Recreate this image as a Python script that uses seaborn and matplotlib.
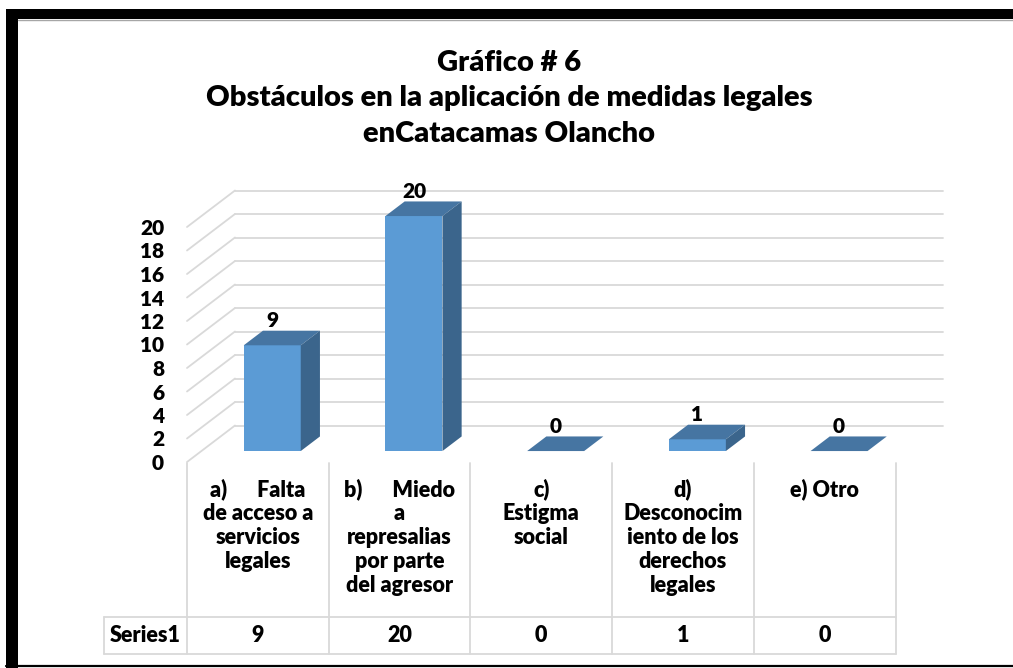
import numpy as np
import pandas as pd
import matplotlib
matplotlib.use("Agg")
import matplotlib.pyplot as plt
import matplotlib.transforms as mtrans
from matplotlib.patches import Polygon, Rectangle
from matplotlib.lines import Line2D
import seaborn as sns

# ---------------- data ----------------
title_lines = ["Gráfico # 6",
               "Obstáculos en la aplicación de medidas legales",
               "enCatacamas Olancho"]
categories = ["a) Falta de acceso a servicios legales",
              "b) Miedo a represalias por parte del agresor",
              "c) Estigma social",
              "d) Desconocimiento de los derechos legales",
              "e) Otro"]
category_label_lines = [
    ["a)      Falta", "de acceso a", "servicios", "legales"],
    ["b)      Miedo", "a", "represalias", "por parte", "del agresor"],
    ["c)", "Estigma", "social"],
    ["d)", "Desconocim", "iento de los", "derechos", "legales"],
    ["e) Otro"],
]
values = [9, 20, 0, 1, 0]
series_name = "Series1"
y_ticks = [0, 2, 4, 6, 8, 10, 12, 14, 16, 18, 20]

# ---------------- style ----------------
W, H = 1013, 668
sns.set_theme(style="white")
plt.rcParams["font.family"] = ["Lato", "DejaVu Sans"]
FW = "heavy"
plt.rcParams["font.weight"] = FW

front_c = "#5B9BD5"
top_c = "#4675A2"
side_c = "#3B658C"
grid_c = "#D9D9D9"

fig = plt.figure(figsize=(W / 100, H / 100), dpi=100)
fig.patch.set_facecolor("white")

def fx(px):
    return px / W

def fy(py):
    return 1 - py / H

# axes = front plane of the 3D plot
ax_left, ax_right, ax_bottom, ax_top = 187, 944, 462, 180
ax = fig.add_axes([fx(ax_left), fy(ax_bottom), fx(ax_right - ax_left), (ax_bottom - ax_top) / H])

cat_px = 141.7
val_px = 11.75
xmin = -0.5
xmax = xmin + (ax_right - ax_left) / cat_px
ymax = (ax_bottom - ax_top) / val_px

# depth vector (data units)
Dx = 48 / cat_px
Dy = 36.5 / val_px
f0, f1 = 0.30, 0.70  # bar front / back depth fractions
bar_w = 57 / cat_px

df = pd.DataFrame({"cat": categories, "val": values})
sns.barplot(data=df, x="cat", y="val", ax=ax, color=front_c, width=bar_w,
            saturation=1, linewidth=0, zorder=3)

ax.set_xlim(xmin, xmax)
ax.set_ylim(0, ymax)
for s in ax.spines.values():
    s.set_visible(False)
ax.set_xlabel("")
ax.set_ylabel("")
ax.set_xticks([])
ax.set_yticks(y_ticks)
ax.set_yticklabels([str(t) for t in y_ticks], fontsize=15, fontweight=FW, color="black")
ax.tick_params(axis="y", length=0, pad=16.5)
ax.set_facecolor("none")
ax.grid(False)

# back wall and side wall gridlines
for t in y_ticks:
    ax.add_line(Line2D([xmin, xmin + Dx], [t, t + Dy], color=grid_c, lw=1.3, zorder=1, clip_on=False))
    ax.add_line(Line2D([xmin + Dx, xmax - 0.005], [t + Dy, t + Dy], color=grid_c, lw=1.3, zorder=1, clip_on=False))

# 3D bar faces
ddx = (f1 - f0) * Dx
ddy = (f1 - f0) * Dy
for p, v in zip(ax.patches, values):
    p.set_x(p.get_x() + f0 * Dx)
    p.set_y(f0 * Dy)
    x0 = p.get_x()
    x1 = x0 + p.get_width()
    yb = f0 * Dy
    yt = v + f0 * Dy
    top = Polygon([(x0, yt), (x1, yt), (x1 + ddx, yt + ddy), (x0 + ddx, yt + ddy)],
                  closed=True, facecolor=top_c, edgecolor="none", zorder=4)
    ax.add_patch(top)
    if v > 0:
        side = Polygon([(x1, yb), (x1 + ddx, yb + ddy), (x1 + ddx, yt + ddy), (x1, yt)],
                       closed=True, facecolor=side_c, edgecolor="none", zorder=4)
        ax.add_patch(side)
    ax.annotate(str(v), xy=((x0 + x1) / 2, v + f1 * Dy), xytext=(0, 2.5),
                textcoords="offset points", ha="center", va="baseline",
                fontsize=15, fontweight=FW, color="black", zorder=5)

# ---------------- data table ----------------
bt = mtrans.blended_transform_factory(ax.transData, fig.transFigure)
tab_top, tab_mid, tab_bot = 462.5, 616.5, 654
series_left = 104
n = len(categories)
lw_t = 1.3
for i in range(n + 1):
    fig.add_artist(Line2D([i - 0.5, i - 0.5], [fy(tab_top), fy(tab_bot)], transform=bt,
                          color=grid_c, lw=lw_t))
fig.add_artist(Line2D([fx(series_left), fx(series_left)], [fy(tab_mid), fy(tab_bot)],
                      transform=fig.transFigure, color=grid_c, lw=lw_t))
x_right_fig = ax.transData.transform((n - 0.5, 0))[0] / W
for yy in (tab_mid, tab_bot):
    fig.add_artist(Line2D([fx(series_left), x_right_fig], [fy(yy), fy(yy)],
                          transform=fig.transFigure, color=grid_c, lw=lw_t))

line0, pitch = 489, 24.2
for i, lines in enumerate(category_label_lines):
    for k, s in enumerate(lines):
        ax.text(i, fy(line0 + k * pitch), s, transform=bt, ha="center", va="center",
                fontsize=15.5, fontweight=FW, color="black")
    ax.text(i, fy(635), str(values[i]), transform=bt, ha="center", va="center",
            fontsize=15.5, fontweight=FW, color="black")
fig.text(fx(145), fy(635), series_name, ha="center", va="center",
         fontsize=15.5, fontweight=FW, color="black")

# ---------------- title ----------------
for s, yy in zip(title_lines, (63, 98, 134)):
    fig.text(fx(509), fy(yy), s, ha="center", va="center", fontsize=21,
             fontweight=FW, color="black")

# ---------------- frame ----------------
fig.add_artist(Rectangle((fx(6), fy(H)), fx(12), (H - 9) / H, transform=fig.transFigure,
                         facecolor="black", edgecolor="none"))
fig.add_artist(Rectangle((fx(6), fy(19)), fx(W - 6), 10 / H, transform=fig.transFigure,
                         facecolor="black", edgecolor="none"))
fig.add_artist(Line2D([fx(18), 1], [fy(19.8), fy(19.8)], transform=fig.transFigure,
                      color="#A6A6A6", lw=1))
fig.add_artist(Line2D([fx(6), 1], [fy(666.3), fy(666.3)], transform=fig.transFigure,
                      color="black", lw=1.6))

fig.savefig("out.png", dpi=100, facecolor="white")
